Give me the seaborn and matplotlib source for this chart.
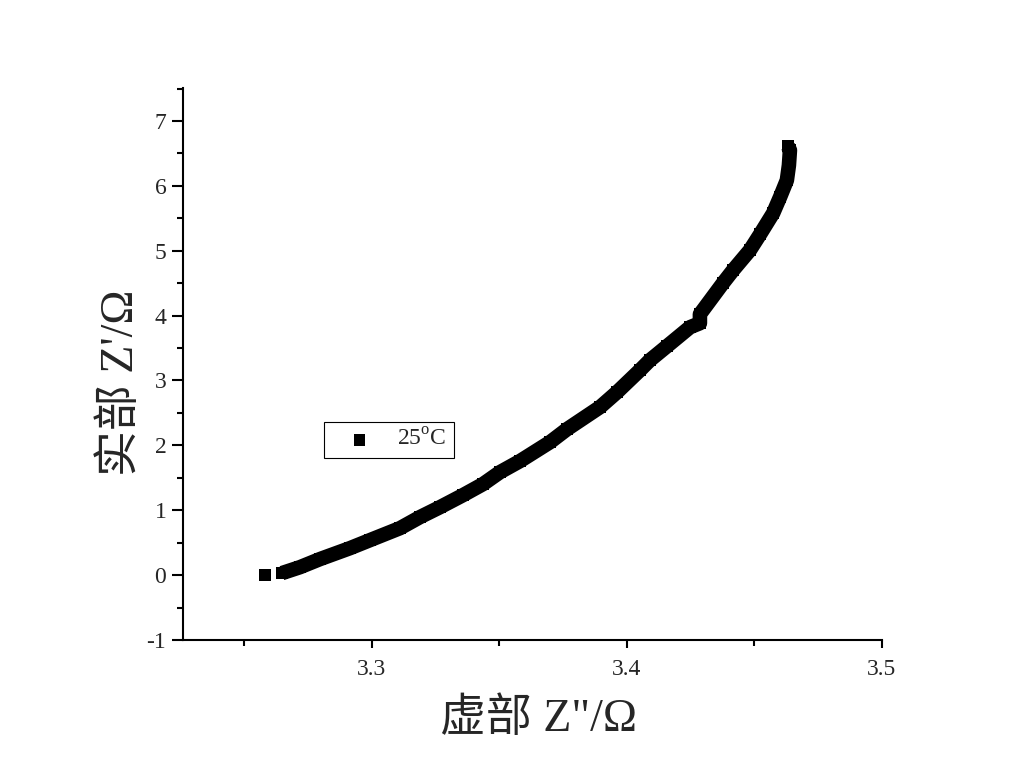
import numpy as np
import seaborn as sns
import matplotlib
matplotlib.use('Agg')
import matplotlib.pyplot as plt
from matplotlib.ticker import MultipleLocator

sns.set_style('ticks')
plt.rcParams['font.family'] = ['Liberation Serif', 'Noto Sans CJK SC']
plt.rcParams['mathtext.fontset'] = 'custom'
plt.rcParams['mathtext.rm'] = 'Liberation Serif'
plt.rcParams['axes.unicode_minus'] = False

# 读图得到的阻抗数据 (25°C)
imag_part = [3.2580, 3.2647, 3.2718, 3.2796, 3.2914, 3.2992, 3.3110, 3.3188,
             3.3267, 3.3357, 3.3435, 3.3502, 3.3580, 3.3698, 3.3765, 3.3894,
             3.3961, 3.4051, 3.4090, 3.4157, 3.4247, 3.4286, 3.4286, 3.4376,
             3.4416, 3.4482, 3.4522, 3.4573, 3.4600, 3.4627, 3.4635, 3.4639,
             3.4631]
real_part = [0.000, 0.031, 0.123, 0.247, 0.416, 0.539, 0.724, 0.894,
             1.048, 1.233, 1.402, 1.587, 1.757, 2.049, 2.250, 2.589,
             2.820, 3.159, 3.313, 3.529, 3.821, 3.883, 4.022, 4.499,
             4.700, 5.008, 5.254, 5.578, 5.824, 6.086, 6.317, 6.549,
             6.610]
label = '25$^{\\rm o}$C'

fig = plt.figure(figsize=(10.24, 7.69), dpi=100)
ax = fig.add_axes([183 / 1024, 129 / 769, 699 / 1024, 552 / 769])

# 密集的点连成粗带
sns.lineplot(x=imag_part[1:], y=real_part[1:], sort=False, estimator=None,
             color='black', lw=10.5, solid_capstyle='butt', solid_joinstyle='round', ax=ax)
sns.scatterplot(x=imag_part, y=real_part, marker='s', s=72, color='black',
                edgecolor='none', label=label, ax=ax)

ax.set_xlim(3.2259, 3.5)
ax.set_ylim(-1, 7.508)
ax.xaxis.set_minor_locator(MultipleLocator(0.05))
ax.yaxis.set_major_locator(MultipleLocator(1))
ax.yaxis.set_minor_locator(MultipleLocator(0.5))
ax.set_xticks([3.3, 3.4, 3.5])
ax.set_xticklabels(['3.3', '3.4', '3.5'])

sns.despine(ax=ax)
for s in ['left', 'bottom']:
    ax.spines[s].set_linewidth(1.5)
    ax.spines[s].set_color('black')
ax.tick_params(axis='both', which='both', direction='out', color='black', width=1.5)
ax.tick_params(axis='x', which='major', length=6, pad=8, labelsize=17)
ax.tick_params(axis='x', which='minor', length=4.5)
ax.tick_params(axis='y', which='major', length=8, pad=4, labelsize=17)
ax.tick_params(axis='y', which='minor', length=4.5)

ax.set_xlabel('虚部 Z"/Ω', fontsize=33)
ax.set_ylabel("实部 Z'/Ω", fontsize=33)
ax.xaxis.set_label_coords(0.509, -0.106)
ax.yaxis.set_label_coords(-0.057, 0.466)

leg = ax.legend(loc='upper left', bbox_to_anchor=(0.2017, 0.395), borderaxespad=0,
                fontsize=17, fancybox=False, framealpha=1, edgecolor='black',
                handlelength=2.4, handletextpad=0.4, borderpad=0.3)
leg.get_frame().set_linewidth(0.8)

fig.savefig('out.png', dpi=100)
